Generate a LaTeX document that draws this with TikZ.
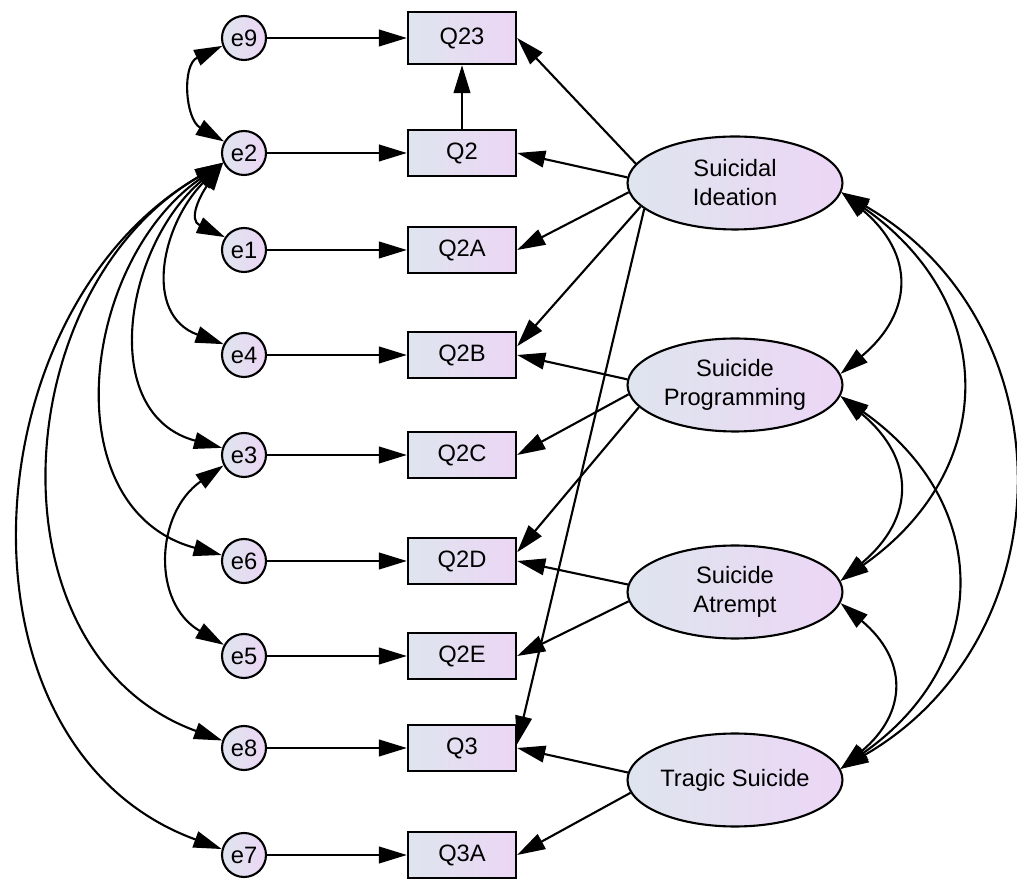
\documentclass[tikz,border=0pt]{standalone}
\usepackage{fontspec}
\setmainfont{Liberation Sans}
\usetikzlibrary{arrows.meta,shapes.geometric}

\definecolor{shadeleft}{RGB}{222,229,238}
\definecolor{shaderight}{RGB}{236,214,245}

\begin{document}
\begin{tikzpicture}[x=0.02cm,y=0.02cm,
    font=\fontsize{13.5}{16.5}\selectfont,
    >={Triangle[length=16pt,width=9.5pt]},
    errvar/.style={circle,draw,line width=1.2pt,minimum size=0.88cm,inner sep=0pt,
      left color=shadeleft,right color=shaderight},
    indicator/.style={rectangle,draw,line width=1.3pt,minimum width=2.16cm,inner sep=0pt,
      left color=shadeleft,right color=shaderight},
    latent/.style={ellipse,draw,line width=1.2pt,minimum width=4.3cm,minimum height=1.86cm,
      inner sep=0pt,align=center,left color=shadeleft,right color=shaderight},
    loading/.style={->,line width=1.2pt},
    cov/.style={<->,line width=1.2pt}]

      \useasboundingbox (0,0) rectangle (1017,879);

      % Error terms, observed items and their paths
      \foreach \e/\q/\y/\h in {9/23/841/1.04, 2/2/726/0.92, 1/2A/629/0.92,
        4/2B/524/0.92, 3/2C/424/0.92, 6/2D/318/0.92, 5/2E/223/0.92,
        8/3/131/0.92, 7/3A/24/0.92} {
        \node[errvar] (e\e) at (244,\y) {e\e};
        \node[indicator,minimum height=\h cm] (Q\q) at (462,\y) {Q\q};
        \draw[loading] (e\e) -- (Q\q);
      }
      \draw[loading] (Q2) -- (Q23);

      % Latent factors
      \node[latent] (Ideation) at (735,696) {Suicidal\\Ideation};
      \node[latent] (Programming) at (735,494) {Suicide\\Programming};
      \node[latent] (Atrempt) at (735,287) {Suicide\\Atrempt};
      \node[latent] (Tragic) at (735,99) {Tragic Suicide};

      % Draw the factor loadings
      \draw[loading] (Ideation.169) -- (Q23.east);
      \draw[loading] (Ideation.177) -- (Q2.east);
      \draw[loading] (Ideation.185) -- (Q2A.east);
      \draw[loading] (Ideation.194) -- (Q2B.9);
      \draw[loading] (Ideation.196) -- (Q3.4);
      \draw[loading] (Programming.177) -- (Q2B.east);
      \draw[loading] (Programming.185) -- (Q2C.east);
      \draw[loading] (Programming.193) -- (Q2D.9);
      \draw[loading] (Atrempt.176) -- (Q2D.east);
      \draw[loading] (Atrempt.185) -- (Q2E.east);
      \draw[loading] (Tragic.176) -- (Q3.east);
      \draw[loading] (Tragic.187) -- (Q3A.east);

      % Draw covariances between the error terms
      \draw[cov] (e9.200) to[out=205,in=150,looseness=1.2] (e2.150);
      \foreach \t/\a/\o/\i/\l in {1/146/235/155/1.4, 4/152/225/160/1.22,
        3/162/220/165/1.16, 6/165/215/165/1.14, 8/161/210/160/1.12,
        7/165/210/160/1.1} {
        \draw[cov] (e2.205) to[out=\o,in=\i,looseness=\l] (e\t.\a);
      }
      \draw[cov] (e3.207) to[out=215,in=150,looseness=1.19] (e5.151);

      % Draw covariances between the factors
      \draw[cov] (Ideation.355) to[out=-40,in=40,looseness=1.35] (Programming.6);
      \draw[cov] (Ideation.355) to[out=-35,in=35,looseness=1.27] (Atrempt.6);
      \draw[cov] (Ideation.355) to[out=-30,in=30,looseness=1.17] (Tragic.6);
      \draw[cov] (Programming.354) to[out=-40,in=40,looseness=1.36] (Atrempt.6);
      \draw[cov] (Programming.354) to[out=-35,in=35,looseness=1.28] (Tragic.6);
      \draw[cov] (Atrempt.354) to[out=-40,in=40,looseness=1.36] (Tragic.6);
    \end{tikzpicture}
\end{document}
